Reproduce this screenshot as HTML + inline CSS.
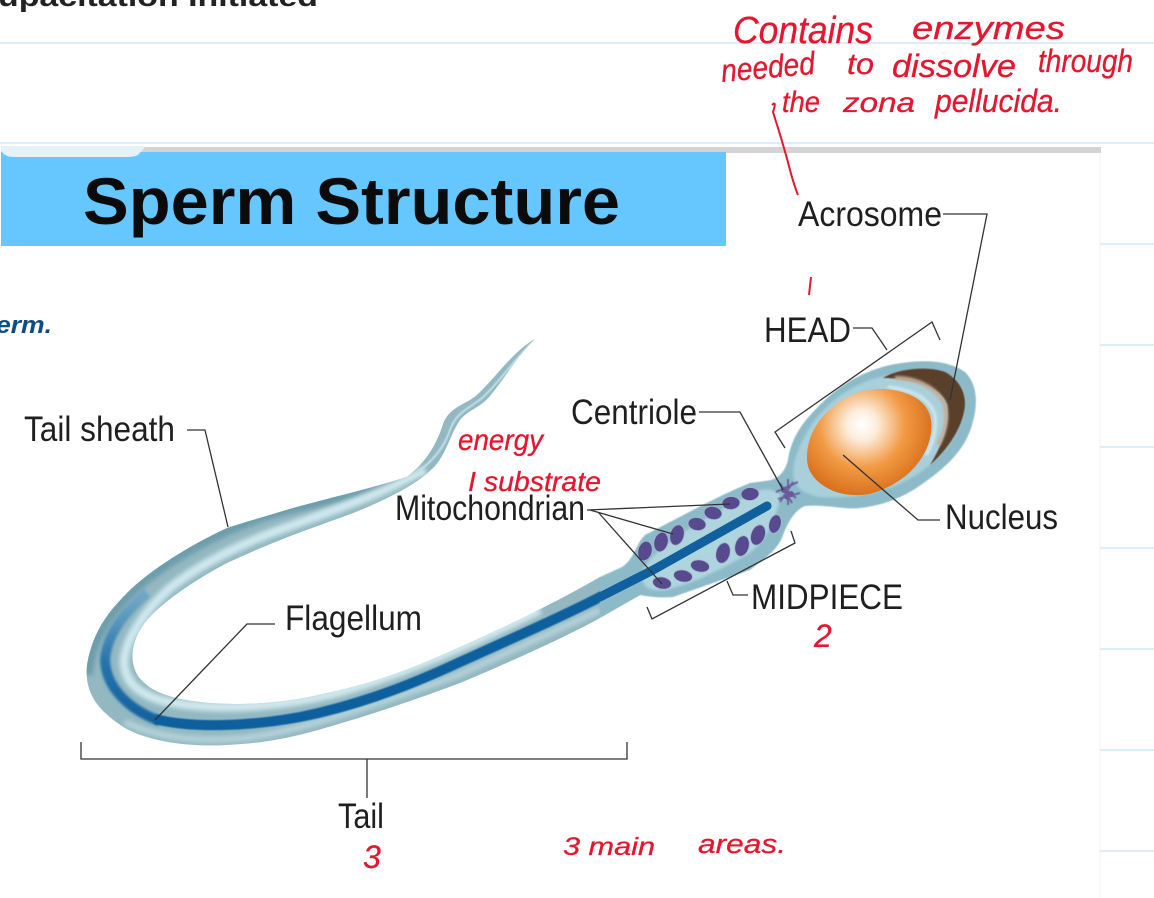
<!DOCTYPE html>
<html><head><meta charset="utf-8"><style>
html,body{margin:0;padding:0;background:#fff;width:1154px;height:898px;overflow:hidden}
svg{display:block}
.l{font-family:"Liberation Sans",sans-serif;font-size:35px;fill:#1f1f1f}
.r{font-family:"Liberation Sans",sans-serif;font-style:italic;fill:#e5162f;stroke:#e5162f;stroke-width:.3}
</style></head><body>
<svg width="1154" height="898" viewBox="0 0 1154 898" xmlns="http://www.w3.org/2000/svg">
<defs>
<radialGradient id="nu" gradientUnits="userSpaceOnUse" cx="862" cy="425" r="74"><stop offset="0" stop-color="#fff"/><stop offset=".2" stop-color="#fdeedd"/><stop offset=".58" stop-color="#f29a45"/><stop offset="1" stop-color="#d66c18"/></radialGradient>
<linearGradient id="fl" gradientUnits="userSpaceOnUse" x1="155" y1="725" x2="135" y2="600"><stop offset="0" stop-color="#10609d"/><stop offset=".55" stop-color="#2673ab"/><stop offset="1" stop-color="#6fa6c4"/></linearGradient>
<filter id="b1" filterUnits="userSpaceOnUse" x="0" y="0" width="1154" height="898"><feGaussianBlur stdDeviation="1.2"/></filter>
<filter id="b2" filterUnits="userSpaceOnUse" x="0" y="0" width="1154" height="898"><feGaussianBlur stdDeviation="2.5"/></filter>
<filter id="b05" filterUnits="userSpaceOnUse" x="0" y="0" width="1154" height="898"><feGaussianBlur stdDeviation=".5"/></filter>
<clipPath id="tc"><path d="M535 339C515 350 500 372 480 392C468 405 450 405 443 424C436 446 425 463 407 477C375 487 330 498 293 508C260 518 245 522 227 528C190 545 150 570 127 593C105 615 92 635 87 665C84 695 100 712 125 728C150 742 190 747 227 745C270 743 300 736 345 722C385 710 420 698 460 683C510 662 570 635 600 618L640 595L600 577C560 600 510 625 460 647C420 665 380 682 327 693C290 702 250 706 210 703C175 700 150 693 138 676C128 660 132 638 147 620C165 600 195 580 227 563C255 550 275 542 293 535C325 523 350 515 370 506C395 495 420 482 435 466C447 452 450 435 460 420C468 410 480 408 490 396C505 378 518 355 535 339Z"/></clipPath>
</defs>
<rect width="1154" height="898" fill="#fff"/>
<g stroke="#cde9fb" stroke-width="1.4">
<path d="M0 43H1154M0 143H1154M1100 244H1154M1100 345H1154M1100 447H1154M1100 548H1154M1100 649H1154M1100 750H1154M1100 851H1154"/>
</g>
<text x="-2" y="6" font-family="Liberation Sans,sans-serif" font-weight="bold" font-size="28" fill="#222" textLength="320" lengthAdjust="spacingAndGlyphs">upacitation Initiated</text>
<rect x="1" y="146" width="1099" height="752" fill="#fff"/>
<rect x="1" y="147" width="1100" height="6" fill="#d4d4d6"/>
<path d="M1100 153V898" stroke="#f2f2f4" stroke-width="1"/>
<rect x="1" y="152" width="725" height="94" fill="#66c7ff"/>
<path d="M1 146H146L138 155Q134 157 128 157H14Q4 157 1 150Z" fill="#e6f2fa"/>
<text x="83" y="224" font-family="Liberation Sans,sans-serif" font-weight="bold" font-size="66" fill="#0b0b0b" textLength="537" lengthAdjust="spacingAndGlyphs">Sperm Structure</text>

<!-- tail -->
<g clip-path="url(#tc)">
<rect x="60" y="320" width="600" height="440" fill="#93b8c2"/>
<path filter="url(#b2)" fill="none" stroke="#6d9dac" stroke-width="10" d="M420 474C380 490 330 500 285 510C240 522 190 545 145 580C110 610 90 640 88 675"/>
<path filter="url(#b2)" fill="none" stroke="#cfe8ed" stroke-width="9" d="M425 470C390 490 340 508 293 525C250 540 205 560 170 588C145 610 125 640 124 662C125 680 135 692 160 700C210 712 280 708 340 692C400 675 470 645 540 610"/>
<path filter="url(#b2)" fill="none" stroke="#b7d3da" stroke-width="6" d="M125 722C165 742 225 744 275 733C325 722 385 702 455 676C510 652 560 628 600 610"/>
<path fill="none" stroke="#bfe0e7" stroke-width="2" filter="url(#b05)" d="M532 343C512 362 497 385 482 398C470 408 456 412 450 430C444 448 432 462 416 473"/>
<path filter="url(#b1)" fill="none" stroke="url(#fl)" stroke-width="10" d="M160 721C125 708 106 685 105 660C106 640 120 615 147 593"/>
<path filter="url(#b05)" fill="none" stroke="#10609d" stroke-width="10" d="M155 719C190 728 245 727 300 717C350 707 400 690 460 662C520 635 565 615 600 597L660 566"/>
</g>

<!-- midpiece and head -->
<path filter="url(#b05)" fill="#8dbac8" d="M600 617L640 595C650 597 663 598 673 597L750 570C765 558 778 550 783 535C788 522 795 510 805 506C825 504 845 510 860 508C885 505 905 497 925 482C945 468 965 450 972 425C978 405 978 385 965 372C945 358 915 360 890 365C860 372 835 388 815 410C797 428 790 445 788 460C785 472 778 480 765 481L750 483C720 495 680 517 645 535C635 545 635 558 622 567L600 577Z"/>
<path filter="url(#b1)" fill="#aed4de" d="M642 572C650 552 690 525 755 492C768 487 775 490 780 495C778 515 770 535 750 553C720 570 690 585 665 590C650 592 640 587 642 572Z"/>
<path filter="url(#b1)" fill="#a9d0da" d="M795 460C805 425 830 395 870 380C905 368 945 370 960 385C970 400 965 425 945 450C915 485 870 500 820 497C795 492 790 480 795 460Z"/>
<!-- acrosome -->
<path filter="url(#b05)" fill="#5a3f2a" d="M883 378C895 370 925 365 945 372C960 380 968 395 964 412C960 432 945 452 930 465C942 445 950 425 947 405C942 388 915 378 883 378Z"/>
<path filter="url(#b1)" fill="none" stroke="#c2ad9a" stroke-width="4" d="M895 378C920 378 938 390 945 405C948 420 945 432 938 445"/>
<path filter="url(#b1)" fill="none" stroke="#d6e9ee" stroke-width="3" d="M888 387C915 390 930 400 935 415C937 430 932 445 926 455"/>
<!-- nucleus -->
<path fill="url(#nu)" d="M807 457C807 435 820 417 833 407C850 393 868 388 885 389C908 391 928 400 931 420C934 445 918 468 900 480C885 490 870 496 855 495C835 495 818 485 811 473C808 468 807 463 807 457Z"/>

<!-- centriole -->
<g stroke="#6a5a9c" stroke-width="1.8" fill="none" filter="url(#b05)">
<path d="M776 492L798 482M780 483L792 503M788 479L788 505M778 499L800 493M783 488L796 498M793 482L780 502"/>
</g>
<g fill="#6a5a9c"><circle cx="784" cy="490" r="3"/><circle cx="791" cy="494" r="3"/><circle cx="787" cy="497" r="2.5"/></g>
<!-- filament -->
<path fill="none" stroke="#10609d" stroke-width="9" stroke-linecap="round" d="M600 597L653 570L767 506"/>
<!-- mitochondria -->
<g fill="#574a8e" stroke="#a5b7cf" stroke-width=".8">
<ellipse cx="750" cy="494" rx="9" ry="6.5" transform="rotate(-5 750 494)"/>
<ellipse cx="731" cy="503" rx="9" ry="6.5" transform="rotate(-5 731 503)"/>
<ellipse cx="713" cy="513" rx="9" ry="6.5" transform="rotate(10 713 513)"/>
<ellipse cx="697" cy="524" rx="9" ry="6.5" transform="rotate(10 697 524)"/>
<ellipse cx="677" cy="535" rx="10.5" ry="7" transform="rotate(-75 677 535)"/>
<ellipse cx="661" cy="542" rx="10" ry="7" transform="rotate(-75 661 542)"/>
<ellipse cx="645" cy="551" rx="10" ry="7" transform="rotate(-75 645 551)"/>
<ellipse cx="775" cy="524" rx="9.5" ry="6" transform="rotate(-75 775 524)"/>
<ellipse cx="758" cy="535" rx="10.5" ry="7" transform="rotate(-70 758 535)"/>
<ellipse cx="742" cy="546" rx="10.5" ry="7" transform="rotate(-75 742 546)"/>
<ellipse cx="723" cy="553" rx="10.5" ry="7" transform="rotate(-75 723 553)"/>
<ellipse cx="700" cy="566" rx="9.5" ry="6" transform="rotate(10 700 566)"/>
<ellipse cx="683" cy="576" rx="9.5" ry="6" transform="rotate(10 683 576)"/>
<ellipse cx="662" cy="583" rx="9.5" ry="6" transform="rotate(10 662 583)"/>
</g>

<!-- leaders -->
<g fill="none" stroke="#333" stroke-width="1.3">
<path d="M943 214H987L950 400"/>
<path d="M853 328H872L887 350"/>
<path d="M785 448L775 432L932 322L940 340"/>
<path d="M699 412H740L783 490"/>
<path d="M843 455L918 520H940"/>
<path d="M587 510L730 504M590 510L673 534M598 512L662 584"/>
<path d="M647 607L652 619L795 543L791 531"/>
<path d="M727 581L733 595H748"/>
<path d="M275 624H247L155 720"/>
<path d="M187 430H205L228 527"/>
<path d="M81 742V759H627V742M367 759V798"/>
</g>
<!-- labels -->
<text class="l" x="798" y="226" textLength="144" lengthAdjust="spacingAndGlyphs">Acrosome</text>
<text class="l" x="764" y="342" textLength="87" lengthAdjust="spacingAndGlyphs">HEAD</text>
<text class="l" x="571" y="424" textLength="126" lengthAdjust="spacingAndGlyphs">Centriole</text>
<text class="l" x="24" y="441" textLength="151" lengthAdjust="spacingAndGlyphs">Tail sheath</text>
<text class="l" x="395" y="520" textLength="190" lengthAdjust="spacingAndGlyphs">Mitochondrian</text>
<text class="l" x="945" y="529" textLength="113" lengthAdjust="spacingAndGlyphs">Nucleus</text>
<text class="l" x="751" y="609" textLength="152" lengthAdjust="spacingAndGlyphs">MIDPIECE</text>
<text class="l" x="285" y="630" textLength="137" lengthAdjust="spacingAndGlyphs">Flagellum</text>
<text class="l" x="338" y="828" textLength="46" lengthAdjust="spacingAndGlyphs">Tail</text>

<!-- handwriting -->
<text class="r" font-size="38" x="733" y="43" textLength="140" lengthAdjust="spacingAndGlyphs">Contains</text>
<text class="r" font-size="32" x="912" y="39" textLength="153" lengthAdjust="spacingAndGlyphs">enzymes</text>
<text class="r" font-size="32" transform="rotate(-5 722 82)" x="722" y="82" textLength="94" lengthAdjust="spacingAndGlyphs">needed</text>
<text class="r" font-size="30" x="847" y="74" textLength="27" lengthAdjust="spacingAndGlyphs">to</text>
<text class="r" font-size="32" x="892" y="77" textLength="124" lengthAdjust="spacingAndGlyphs">dissolve</text>
<text class="r" font-size="32" x="1038" y="72" textLength="95" lengthAdjust="spacingAndGlyphs">through</text>
<text class="r" font-size="30" x="782" y="112" textLength="38" lengthAdjust="spacingAndGlyphs">the</text>
<text class="r" font-size="28" x="843" y="112" textLength="72" lengthAdjust="spacingAndGlyphs">zona</text>
<text class="r" font-size="32" x="935" y="112" textLength="127" lengthAdjust="spacingAndGlyphs">pellucida.</text>
<path d="M772 105Q777 100 773 112Q785 150 790 170Q794 185 798 195" fill="none" stroke="#e5162f" stroke-width="2"/>
<text class="r" font-size="30" x="458" y="450" textLength="85" lengthAdjust="spacingAndGlyphs">energy</text>
<text class="r" font-size="28" x="468" y="491" textLength="133" lengthAdjust="spacingAndGlyphs">I substrate</text>
<text class="r" font-size="25" x="563" y="855" textLength="92" lengthAdjust="spacingAndGlyphs">3 main</text>
<text class="r" font-size="27" x="698" y="853" textLength="88" lengthAdjust="spacingAndGlyphs">areas.</text>
<text class="r" font-size="32" x="363" y="868">3</text>
<text class="r" font-size="32" x="814" y="647">2</text>
<path d="M811 277L809 295" stroke="#e5162f" stroke-width="2"/>
<text x="-4" y="333" font-family="Liberation Sans,sans-serif" font-style="italic" font-weight="bold" font-size="24" fill="#0e4d84" textLength="56" lengthAdjust="spacingAndGlyphs">erm.</text>
</svg>
</body></html>
